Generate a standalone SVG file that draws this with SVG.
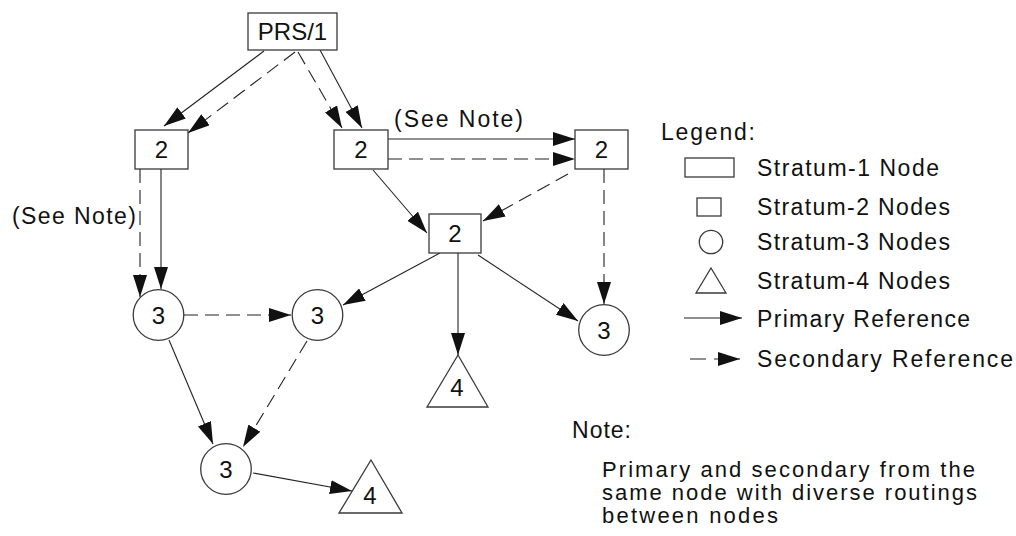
<svg xmlns="http://www.w3.org/2000/svg" width="1016" height="536" viewBox="0 0 1016 536">
<style>
.bg{fill:#ffffff}
.nd{fill:#ffffff;stroke:#3a3a3a;stroke-width:1.3}
.t{font-family:"Liberation Sans",Arial,sans-serif;font-size:23px;fill:#111}
.nt{font-family:"Liberation Sans",Arial,sans-serif;font-size:22px;fill:#111}
.lb{font-family:"Liberation Sans",Arial,sans-serif;font-size:24px;fill:#111;text-anchor:middle}
.p{fill:none;stroke:#222;stroke-width:1.1;marker-end:url(#ah)}
.s{fill:none;stroke:#222;stroke-width:1.1;stroke-dasharray:14 7;marker-end:url(#ah)}
</style>
<defs>
<marker id="ah" viewBox="0 0 22 14" refX="22" refY="7" markerWidth="22" markerHeight="14" markerUnits="userSpaceOnUse" orient="auto">
<path d="M0,0 L22,7 L0,14 Z" fill="#111"/>
</marker>
</defs>
<rect class="bg" x="0" y="0" width="1016" height="536"/>

<g id="connectors">
<line class="p" x1="264" y1="51" x2="164" y2="126"/>
<line class="s" x1="295" y1="52" x2="188" y2="133"/>
<line class="s" x1="298" y1="52" x2="342" y2="128"/>
<line class="p" x1="320" y1="50" x2="362" y2="128"/>
<line class="p" x1="388" y1="139" x2="575" y2="139"/>
<line class="s" x1="388" y1="159" x2="575" y2="159"/>
<line class="p" x1="373" y1="170" x2="427" y2="233"/>
<line class="s" x1="568" y1="174" x2="483" y2="221"/>
<line class="s" x1="140" y1="169" x2="140" y2="297"/>
<line class="p" x1="161" y1="169" x2="161" y2="289"/>
<line class="p" x1="440" y1="253" x2="343" y2="305"/>
<line class="p" x1="458" y1="253" x2="458" y2="355"/>
<line class="p" x1="478" y1="255" x2="578" y2="321"/>
<line class="s" x1="604" y1="169" x2="604" y2="304"/>
<line class="s" x1="184" y1="315" x2="291" y2="315"/>
<line class="p" x1="169" y1="340" x2="213" y2="444"/>
<line class="s" x1="307" y1="341" x2="243" y2="447"/>
<line class="p" x1="253" y1="473" x2="352" y2="491"/>
<text class="t" x="394" y="127" textLength="129">(See Note)</text>
<text class="t" x="12" y="224" textLength="124">(See Note)</text>
</g>

<g id="prs1"><rect class="nd" x="248" y="13" width="89" height="37"/><text class="lb" x="292.5" y="40">PRS/1</text></g>
<g id="s2a"><rect class="nd" x="135" y="130" width="53" height="39"/><text class="lb" x="161.5" y="158">2</text></g>
<g id="s2b"><rect class="nd" x="334" y="130" width="54" height="39"/><text class="lb" x="361" y="158">2</text></g>
<g id="s2c"><rect class="nd" x="575" y="130" width="53" height="39"/><text class="lb" x="601.5" y="158">2</text></g>
<g id="s2d"><rect class="nd" x="429" y="214" width="52" height="39"/><text class="lb" x="455" y="242">2</text></g>
<g id="s3e"><circle class="nd" cx="158.5" cy="315" r="25.3"/><text class="lb" x="158.5" y="323.5">3</text></g>
<g id="s3f"><circle class="nd" cx="317.5" cy="315" r="25.3"/><text class="lb" x="317.5" y="323.5">3</text></g>
<g id="s3g"><circle class="nd" cx="226" cy="469" r="25.3"/><text class="lb" x="226" y="477.5">3</text></g>
<g id="s3h"><circle class="nd" cx="604" cy="330" r="25.3"/><text class="lb" x="604" y="338.5">3</text></g>
<g id="s4a"><polygon class="nd" points="458,355 488,407 427,407"/><text class="lb" x="457" y="396">4</text></g>
<g id="s4b"><polygon class="nd" points="371,460 402,513 339,513"/><text class="lb" x="370" y="504">4</text></g>

<g id="legend">
<text class="t" x="661" y="140" textLength="94">Legend:</text>
<rect class="nd" x="685" y="158" width="49" height="19"/>
<text class="t" x="757" y="176" textLength="182">Stratum-1 Node</text>
<rect class="nd" x="697" y="198" width="24" height="18"/>
<text class="t" x="757" y="215" textLength="193">Stratum-2 Nodes</text>
<circle class="nd" cx="711" cy="242" r="11.7"/>
<text class="t" x="757" y="250" textLength="193">Stratum-3 Nodes</text>
<polygon class="nd" points="711,268 726,293 696,293"/>
<text class="t" x="757" y="289" textLength="193">Stratum-4 Nodes</text>
<line class="p" x1="684" y1="318" x2="742" y2="318"/>
<text class="t" x="757" y="327" textLength="213">Primary Reference</text>
<line class="s" x1="690" y1="359" x2="740" y2="359" style="stroke-dasharray:16 8"/>
<text class="t" x="757" y="367" textLength="256">Secondary Reference</text>
</g>

<g id="note">
<text class="t" x="572" y="438" textLength="59">Note:</text>
<text class="nt" x="602" y="477" textLength="373">Primary and secondary from the</text>
<text class="nt" x="602" y="500" textLength="375">same node with diverse routings</text>
<text class="nt" x="602" y="523" textLength="176">between nodes</text>
</g>
</svg>
